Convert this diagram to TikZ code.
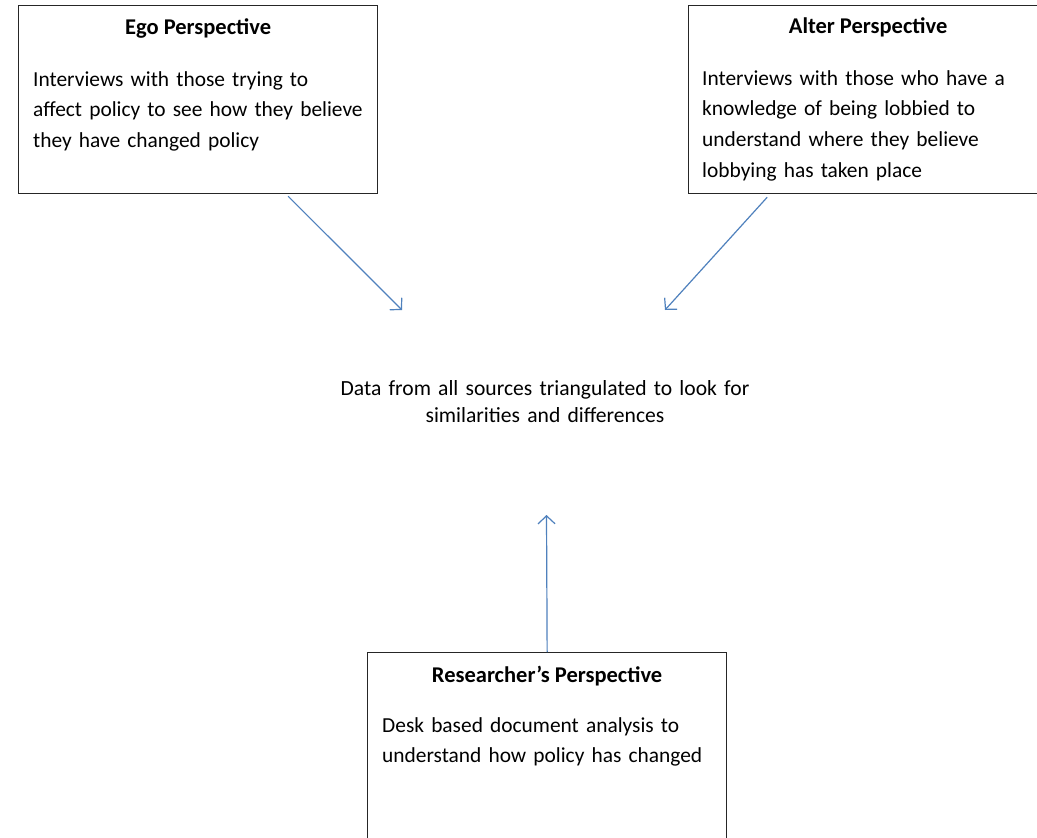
\documentclass[tikz,border=0pt]{standalone}
\usepackage{fontspec}
\setmainfont{Carlito}
\usetikzlibrary{arrows.meta}
\usetikzlibrary{positioning}
\definecolor{linkblue}{RGB}{79,129,189}
\tikzset{persp box/.style={ % Frame of each perspective
           draw=black!85, line width=1.3pt, inner sep=0pt,
           minimum width=359pt, minimum height=188pt,
           anchor=north west},
         persp head/.style={  % Bold heading of a frame
           font=\fontsize{22.5}{31}\selectfont\bfseries,
           inner sep=0pt, anchor=base},
         persp text/.style={  % Text inside a frame
           text width=350pt, align=left,
           inner sep=0pt, anchor=base west},
         link/.style={        % Blue arrows towards the middle
           draw=linkblue, line width=1.2pt,
           -{Straight Barb[length=8pt,width=17pt]}}}

\begin{document}
\begin{tikzpicture}[x=1pt, y=-1pt, font=\fontsize{21.4}{30.9}\selectfont]
\clip (0,0) rectangle (1037,838);
\fill[white] (0,0) rectangle (1037,838);

\node[persp box] (ego) at (18,5) {};
\node[persp box] (alter) at (688,5) {};
\node[persp box] (res) at (367,652) {};

\node[persp head] (egohead) at ([yshift=-29pt]ego.north) {Ego Perspective};
\node[persp head] (alterhead) at ([yshift=-28pt]alter.north) {Alter Perspective};
\node[persp head] (reshead) at ([yshift=-30pt]res.north) {Researcher’s Perspective};

\node[persp text] (egotext) at ([xshift=15pt,yshift=-81pt]ego.north west)
  {Interviews with those trying to\\affect policy to see how they believe\\they have changed policy};
\node[persp text] (altertext) at ([xshift=14pt,yshift=-80pt]alter.north west)
  {Interviews with those who have a\\knowledge of being lobbied to\\understand where they believe\\lobbying has taken place};
\node[persp text] (restext) at ([xshift=15pt,yshift=-80pt]res.north west)
  {Desk based document analysis to\\understand how policy has changed};

\node[text width=440pt, align=center, inner sep=0pt, anchor=base,
      font=\fontsize{21.6}{27}\selectfont] (data) at (545,395)
  {Data from all sources triangulated to look for\\similarities and differences};

\coordinate (egotip) at (402,310);
\coordinate (altertip) at (665,310);
\coordinate (restip) at (546.5,515);

\draw[link] ([xshift=90pt,yshift=-2pt]ego.south) -- (egotip);
\draw[link] ([xshift=-101pt,yshift=-3pt]alter.south) -- (altertip);
\draw[link] (res.north) -- (restip);
\end{tikzpicture}
\end{document}
